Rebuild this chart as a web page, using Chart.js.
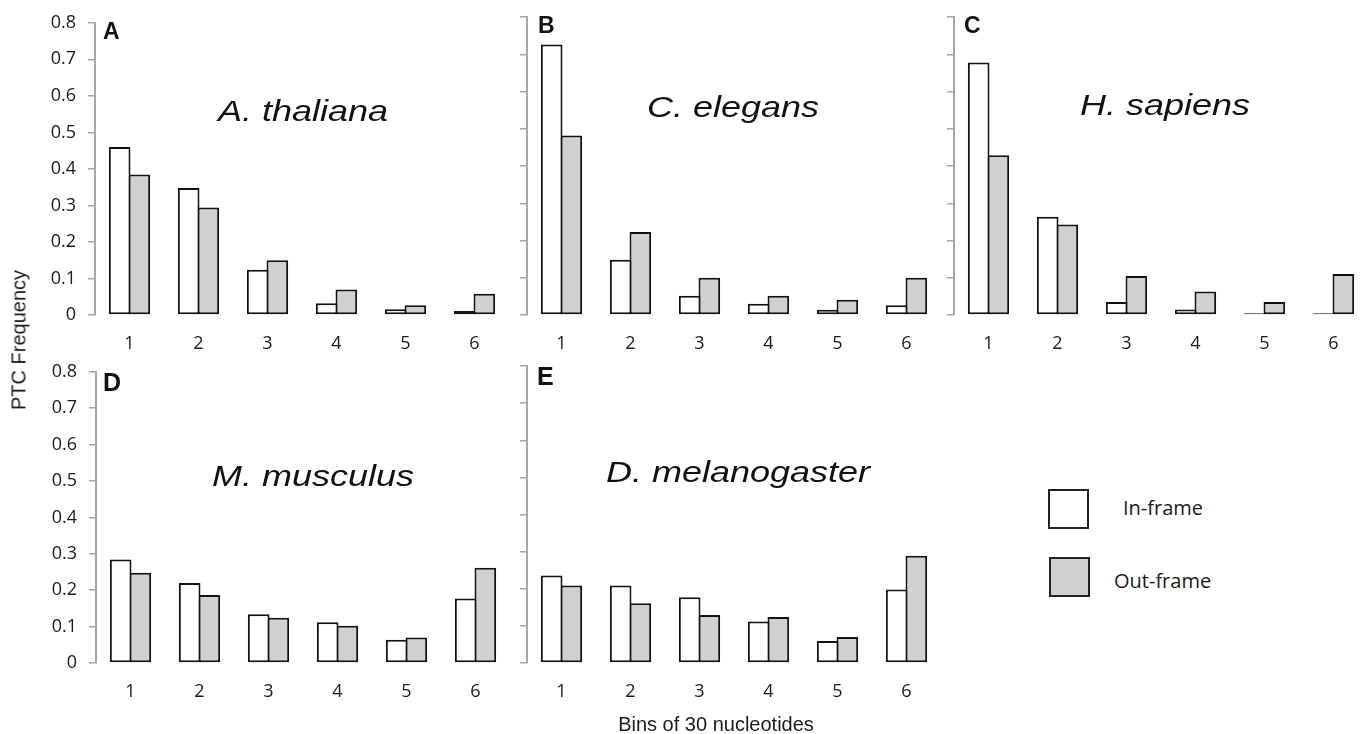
<!DOCTYPE html>
<html>
<head>
<meta charset="utf-8">
<title>PTC frequency by bin</title>
<script src="https://cdn.jsdelivr.net/npm/chart.js@4.4.1/dist/chart.umd.min.js"></script>
<style>
  body { margin: 0; width: 1364px; height: 734px; overflow: hidden; background: #fff; font-family: 'Open Sans', sans-serif; color: #1a1a1a; }
  canvas { position: absolute; }
  .lbl { position: absolute; white-space: nowrap; }
  .ax { font-family: 'Liberation Sans', Arial, sans-serif; font-size: 20px; }
  .sw { position: absolute; box-sizing: border-box; border: 2px solid #222; width: 41px; height: 40px; }
</style>
</head>
<body>
<canvas id="chartA" width="509" height="360" style="left:0;top:0"></canvas>
<canvas id="chartB" width="441" height="360" style="left:500px;top:0"></canvas>
<canvas id="chartC" width="438" height="360" style="left:930px;top:0"></canvas>
<canvas id="chartD" width="510" height="359" style="left:0;top:349px"></canvas>
<canvas id="chartE" width="441" height="359" style="left:500px;top:349px"></canvas>

<div class="lbl ax" style="left:19px;top:340px;transform:translate(-50%,-50%) rotate(-90deg)">PTC Frequency</div>
<div class="lbl ax" style="left:716px;top:724px;transform:translate(-50%,-50%)">Bins of 30 nucleotides</div>

<div class="sw" style="left:1048px;top:489px;background:#fff"></div>
<div class="lbl" style="left:1123px;top:494px;font-size:20px;line-height:28px">In-frame</div>
<div class="sw" style="left:1049px;top:557px;background:#d0d0d0"></div>
<div class="lbl" style="left:1114px;top:567px;font-size:20px;line-height:28px">Out-frame</div>

<script>
const bins = ['1', '2', '3', '4', '5', '6'];

const thalianaIn  = [0.460, 0.348, 0.124, 0.032, 0.016, 0.011];
const thalianaOut = [0.385, 0.294, 0.150, 0.070, 0.027, 0.058];
const elegansIn   = [0.726, 0.148, 0.052, 0.030, 0.014, 0.026];
const elegansOut  = [0.482, 0.223, 0.100, 0.052, 0.041, 0.100];
const sapiensIn   = [0.678, 0.264, 0.035, 0.015, 0.005, 0.005];
const sapiensOut  = [0.429, 0.243, 0.105, 0.063, 0.035, 0.110];
const musculusIn  = [0.284, 0.220, 0.134, 0.112, 0.064, 0.177];
const musculusOut = [0.248, 0.187, 0.124, 0.102, 0.070, 0.262];
const melanoIn    = [0.236, 0.209, 0.177, 0.112, 0.059, 0.198];
const melanoOut   = [0.209, 0.161, 0.129, 0.124, 0.070, 0.289];

const yMin = 0, yMax = 0.8, yStep = 0.1;

Chart.defaults.font.family = "'Open Sans', sans-serif";
Chart.defaults.color = '#1a1a1a';

// panel letter + species name inside the plot area
const panelText = {
  id: 'panelText',
  afterDraw(chart, args, opts) {
    const { ctx, chartArea, scales } = chart;
    ctx.save();
    ctx.fillStyle = '#111';
    ctx.textBaseline = 'alphabetic';
    ctx.textAlign = 'left';
    ctx.font = `bold ${opts.letterSize}px "Liberation Sans", Arial, sans-serif`;
    ctx.fillText(opts.letter, chartArea.left + opts.letterDx, chartArea.top + opts.letterDy);

    ctx.font = 'italic 30px "Liberation Sans", Arial, sans-serif';
    ctx.textAlign = 'center';
    ctx.translate((chartArea.left + chartArea.right) / 2 + opts.titleDx, scales.y.getPixelForValue(opts.titleAt));
    ctx.scale(1.2, 1);
    ctx.fillText(opts.species, 0, 0);
    ctx.restore();
  }
};

function makePanel(id, letter, species, inVals, outVals, p) {
  return new Chart(document.getElementById(id), {
    type: 'bar',
    data: {
      labels: bins,
      datasets: [
        { label: 'In-frame', data: inVals, backgroundColor: '#ffffff', borderColor: '#111',
          borderWidth: 2, borderSkipped: false },
        { label: 'Out-frame', data: outVals, backgroundColor: '#d0d0d0', borderColor: '#111',
          borderWidth: 2, borderSkipped: false }
      ]
    },
    options: {
      responsive: false,
      animation: false,
      // bars slightly wider than their slot so the shared edge is one line
      categoryPercentage: 0.57,
      barPercentage: 1.1,
      layout: { padding: { top: 17, right: 0, bottom: 0, left: 0 } },
      plugins: {
        legend: { display: false },
        tooltip: { enabled: false },
        panelText: {
          letter: letter, species: species,
          letterSize: p.letterSize, letterDx: p.letterDx, letterDy: p.letterDy,
          titleDx: p.titleDx, titleAt: p.titleAt
        }
      },
      scales: {
        x: {
          grid: { display: false, drawTicks: false },
          border: { display: false },
          ticks: { padding: 18, font: { size: 18 } },
          afterFit(s) { s.height = 45; }
        },
        y: {
          min: yMin, max: yMax,
          ticks: { stepSize: yStep, display: p.showLabels, padding: 12, font: { size: 18 } },
          grid: { drawOnChartArea: false, color: '#a6a6a6', tickLength: 7, lineWidth: 1.5 },
          border: { color: '#a6a6a6', width: 2 },
          afterFit(s) { s.width = p.axisW; }
        }
      }
    },
    plugins: [panelText]
  });
}

makePanel('chartA', 'A', 'A. thaliana', thalianaIn, thalianaOut,
  { axisW: 95, showLabels: true, letterSize: 23, letterDx: 8, letterDy: 16, titleDx: 1, titleAt: 0.532 });
makePanel('chartB', 'B', 'C. elegans', elegansIn, elegansOut,
  { axisW: 27, showLabels: false, letterSize: 23, letterDx: 11, letterDy: 16, titleDx: -1, titleAt: 0.532 });
makePanel('chartC', 'C', 'H. sapiens', sapiensIn, sapiensOut,
  { axisW: 24, showLabels: false, letterSize: 23, letterDx: 10, letterDy: 16, titleDx: 4, titleAt: 0.537 });
makePanel('chartD', 'D', 'M. musculus', musculusIn, musculusOut,
  { axisW: 96, showLabels: true, letterSize: 25, letterDx: 7, letterDy: 19, titleDx: 10, titleAt: 0.4875 });
makePanel('chartE', 'E', 'D. melanogaster', melanoIn, melanoOut,
  { axisW: 27, showLabels: false, letterSize: 25, letterDx: 10, letterDy: 19, titleDx: 4, titleAt: 0.4875 });
</script>
</body>
</html>
